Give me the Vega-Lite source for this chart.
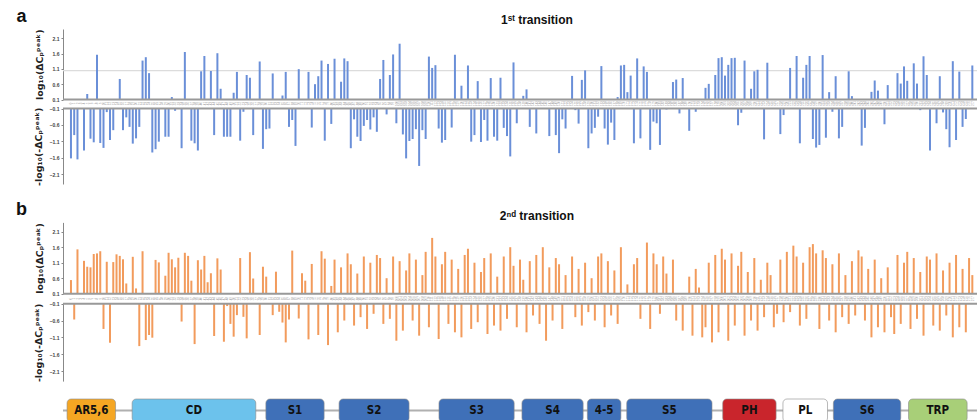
{
  "$schema": "https://vega.github.io/schema/vega-lite/v6.json",
  "width": 914,
  "height": 391,
  "autosize": "none",
  "padding": {"left": 63, "top": 29, "right": 0, "bottom": 0},
  "background": "white",
  "config": {"view": {"stroke": null}, "font": "Liberation Sans"},
  "data": {"values": [
    {"i":0,"an":-1.62,"bp":0.54},{"i":1,"an":-0.91,"bn":-0.57},{"i":2,"an":-1.65,"bp":1.53},{"i":3},{"i":4,"an":-1.38,"bp":1.16},
    {"i":5,"ap":0.28,"bp":0.97},{"i":6,"an":-1.02,"bp":0.95},{"i":7,"an":-1.13,"bp":1.38},{"i":8,"ap":1.56,"bp":1.40},{"i":9,"an":-1.15,"bp":1.47},
    {"i":10,"an":-1.30,"bn":-0.85},{"i":11,"an":-0.21,"bp":1.13},{"i":12,"an":-1.06,"bn":-1.26},{"i":13,"an":-0.76,"bp":1.12},{"i":14,"bp":1.37},
    {"i":15,"ap":0.77,"bp":1.32},{"i":16,"an":-0.76,"bp":1.21},{"i":17,"an":-0.37,"bp":0.43},{"i":18,"an":-0.66},{"i":19,"an":-1.17,"bp":1.29},
    {"i":20,"an":-1.01,"bp":0.27},{"i":21,"an":-0.66,"bn":-1.36},{"i":22,"ap":1.37,"bp":1.47},{"i":23,"ap":1.48,"bn":-1.18},{"i":24,"ap":0.96,"bn":-1.03},
    {"i":25,"an":-1.44,"bn":-1.11},{"i":26,"an":-1.34,"bp":1.19},{"i":27,"an":-1.11,"bp":1.11},{"i":28},{"i":29,"an":-0.96,"bp":0.68},
    {"i":30,"an":-0.96,"bp":1.42},{"i":31,"ap":0.18,"bp":1.21},{"i":32,"an":-0.17,"bp":0.95},{"i":33,"bp":1.26},{"i":34,"an":-1.31,"bn":-0.63},
    {"i":35,"ap":1.65,"bp":1.42},{"i":36,"bp":1.32},{"i":37,"an":-1.08,"bp":0.52},{"i":38,"an":-1.16,"bn":-1.30},{"i":39,"an":-1.38,"bp":1.18},
    {"i":40,"ap":1.02,"bp":0.88},{"i":41,"ap":1.52,"bp":1.32},{"i":42,"bp":0.47},{"i":43,"ap":1.03,"bp":0.76},{"i":44,"an":-0.91,"bn":-1.06},
    {"i":45,"ap":1.61,"bp":1.24},{"i":46,"ap":0.45,"bp":0.88},{"i":47,"an":-0.96,"bn":-1.23},{"i":48,"an":-0.96,"bn":-0.17},{"i":49,"an":-0.96,"bn":-0.70},
    {"i":50,"ap":0.32,"bn":-1.08},{"i":51,"ap":1.00,"bn":-0.44},{"i":52,"an":-1.08,"bp":1.25},{"i":53,"an":-0.20,"bn":-0.49},{"i":54,"ap":0.90,"bn":-1.13},
    {"i":55,"ap":0.81,"bp":1.44},{"i":56,"an":-0.91,"bp":0.59},{"i":57},{"i":58,"ap":1.34,"bn":-1.03},{"i":59,"an":-1.33,"bp":0.97},
    {"i":60,"an":-0.73,"bp":0.65},{"i":61,"an":-0.71},{"i":62,"ap":0.95,"bn":-0.44},{"i":63,"bp":0.81},{"i":64,"bn":-0.34},
    {"i":65,"ap":0.23,"bn":-0.66},{"i":66,"ap":1.00,"bn":-1.25},{"i":67,"an":-0.66,"bn":-0.57},{"i":68,"an":-0.45,"bp":1.49},{"i":69,"an":-1.24},
    {"i":70,"ap":1.09,"bn":-0.54},{"i":71,"bp":0.76},{"i":72,"bp":0.52},{"i":73,"ap":1.00,"bn":-1.16},{"i":74,"an":-0.68,"bp":1.06},
    {"i":75,"ap":0.60},{"i":76,"ap":0.86,"bn":-1.03},{"i":77,"ap":1.37,"bp":1.47},{"i":78,"an":-1.08,"bp":1.23},{"i":79,"ap":1.26,"bn":-1.33},
    {"i":80,"an":-0.57,"bp":0.35},{"i":81,"ap":1.43,"bp":1.20},{"i":82,"bn":-0.95},{"i":83,"ap":0.68,"bp":0.95},{"i":84,"ap":1.44,"bn":-0.60},
    {"i":85,"ap":1.35,"bp":1.40},{"i":86,"an":-1.31,"bp":1.05},{"i":87,"an":-0.43,"bn":-0.75},{"i":88,"an":-0.96,"bp":0.75},{"i":89,"an":-1.09,"bn":-0.50},
    {"i":90,"an":-0.63,"bp":1.30},{"i":91,"an":-0.45,"bn":-0.85},{"i":92,"an":-0.74,"bp":1.10},{"i":93,"an":-0.37,"bn":-0.40},{"i":94,"an":-0.81,"bp":1.35},
    {"i":95,"ap":0.77,"bp":1.25},{"i":96,"ap":1.39,"bn":-0.70},{"i":97,"an":-0.28,"bp":0.60},{"i":98,"ap":0.90,"bn":-0.55},{"i":99,"ap":1.57,"bp":1.30},
    {"i":100,"an":-0.55,"bn":-1.20},{"i":101,"ap":1.92,"bp":1.15},{"i":102,"an":-0.89,"bn":-0.90},{"i":103,"an":-1.62,"bp":0.85},{"i":104,"an":-1.09,"bp":1.40},
    {"i":105,"an":-1.03,"bn":-0.60},{"i":106,"an":-0.73,"bp":1.20},{"i":107,"an":-1.85,"bn":-1.05},{"i":108,"an":-0.76,"bp":0.70},{"i":109,"an":-1.03,"bp":1.45},
    {"i":110,"ap":1.50,"bn":-0.80},{"i":111,"ap":1.13,"bp":1.90},{"i":112,"ap":1.22,"bp":1.30},{"i":113,"an":-0.71,"bn":-1.15},{"i":114,"an":-1.14,"bp":1.05},
    {"i":115,"an":-1.06,"bp":1.45},{"i":116,"bn":-0.70},{"i":117,"an":-0.68,"bp":1.20},{"i":118,"ap":1.56,"bn":-0.95},{"i":119,"bp":0.90},
    {"i":120,"ap":0.55,"bn":-1.10},{"i":121,"bp":1.35},{"i":122,"ap":1.21,"bp":1.55},{"i":123,"an":-1.11,"bn":-0.85},{"i":124,"an":-0.91,"bp":1.10},
    {"i":125,"ap":0.70,"bn":-0.65},{"i":126,"an":-1.12,"bp":0.80},{"i":127,"an":-0.45,"bp":1.25},{"i":128,"an":-1.08,"bn":-1.00},{"i":129,"ap":0.80,"bp":1.40},
    {"i":130,"an":-0.96,"bn":-0.75},{"i":131,"an":-1.08,"bp":0.65},{"i":132,"ap":0.81,"bn":-0.90},{"i":133,"an":-0.69,"bp":1.30},{"i":134,"an":-0.94,"bn":-0.55},
    {"i":135,"an":-1.56,"bp":1.60},{"i":136,"ap":1.31,"bp":1.00},{"i":137,"an":-0.55,"bn":-0.80},{"i":138,"bp":1.20},{"i":139,"ap":0.22,"bp":0.55},
    {"i":140,"ap":0.43,"bn":-0.95},{"i":141,"an":-0.66,"bp":1.15},{"i":142,"bn":-0.45},{"i":143,"an":-0.86,"bp":1.35},{"i":144,"bn":-0.70},
    {"i":145,"bp":1.60},{"i":146,"bn":-1.20},{"i":147,"an":-0.94,"bp":0.95},{"i":148,"bn":-0.60},{"i":149,"an":-0.91,"bp":1.25},
    {"i":150,"an":-1.46,"bp":1.05},{"i":151,"an":-0.43,"bn":-0.85},{"i":152,"an":-0.71,"bp":0.70},{"i":153},{"i":154,"ap":0.87,"bp":1.30},
    {"i":155,"an":-0.15,"bn":-0.50},{"i":156,"an":-0.56,"bp":0.90},{"i":157,"ap":0.74,"bn":-0.75},{"i":158,"ap":1.05,"bp":1.10},{"i":159,"an":-1.31,"bn":-0.35},
    {"i":160,"an":-0.86,"bp":0.60},{"i":161,"an":-0.69,"bn":-0.60},{"i":162,"an":-0.35,"bp":1.30},{"i":163,"ap":1.19,"bp":1.40},{"i":164,"an":-0.71,"bn":-0.80},
    {"i":165,"an":-1.20,"bp":1.15},{"i":166,"an":-0.53,"bn":-0.45},{"i":167,"an":-1.06,"bp":0.85},{"i":168,"ap":0.18,"bn":-0.70},{"i":169,"ap":1.21,"bp":1.60},
    {"i":170,"ap":1.23},{"i":171,"ap":0.34,"bp":0.40},{"i":172,"ap":0.88},{"i":173,"an":-1.16,"bp":1.05},{"i":174,"ap":1.44,"bp":1.25},
    {"i":175,"an":-1.01,"bn":-0.55},{"i":176,"ap":1.18},{"i":177,"ap":1.00,"bp":1.75},{"i":178,"an":-1.36,"bn":-0.85},{"i":179,"an":-0.50,"bp":1.40},
    {"i":180,"an":-0.55,"bp":1.05},{"i":181,"an":-1.21,"bn":-0.40},{"i":182,"bp":1.30},{"i":183,"an":-0.13,"bp":0.75},{"i":184},
    {"i":185,"ap":0.67,"bp":1.20},{"i":186,"ap":0.75,"bn":-0.60},{"i":187,"an":-0.25},{"i":188,"ap":0.80,"bn":-0.90},{"i":189},
    {"i":190,"an":-0.78,"bp":0.65},{"i":191,"bn":-1.05},{"i":192,"an":-0.20,"bp":0.90},{"i":193,"bp":0.30},{"i":194,"bn":-1.10},
    {"i":195,"ap":0.48,"bn":-0.80},{"i":196,"ap":0.61,"bp":1.10},{"i":197,"bn":-1.25},{"i":198,"ap":0.90,"bp":1.35},{"i":199,"ap":1.45,"bn":-0.95},
    {"i":200,"ap":1.48,"bp":1.55},{"i":201,"ap":0.88,"bp":1.20},{"i":202,"ap":1.23,"bn":-1.20},{"i":203,"ap":1.45,"bp":1.40},{"i":204,"ap":1.46,"bn":-0.75},
    {"i":205,"an":-0.61,"bp":1.00},{"i":206,"an":-0.23,"bp":1.45},{"i":207,"ap":1.37,"bn":-1.05},{"i":208,"bp":0.80},{"i":209,"ap":0.45,"bn":-0.60},
    {"i":210,"ap":1.02,"bp":1.25},{"i":211,"ap":1.07,"bn":-0.90},{"i":212,"bp":0.55},{"i":213,"an":-1.04,"bn":-0.50},{"i":214,"ap":1.30,"bp":1.10},
    {"i":215,"bp":0.70},{"i":216,"bn":-0.80},{"i":217,"bn":-0.40},{"i":218,"an":-0.88,"bp":1.20},{"i":219,"an":-0.30,"bn":-0.65},
    {"i":220,"bp":1.45},{"i":221,"ap":1.13,"bn":-0.35},{"i":222,"bp":1.65},{"i":223,"ap":1.52,"bp":1.30},{"i":224,"an":-1.16,"bn":-0.75},
    {"i":225,"ap":0.81,"bp":1.10},{"i":226,"ap":1.23,"bn":-0.55},{"i":227,"ap":1.52,"bp":1.60},{"i":228,"an":-1.03,"bp":1.70},{"i":229,"an":-1.29,"bp":1.40},
    {"i":230,"an":-1.21,"bn":-0.85},{"i":231,"ap":1.55,"bp":1.50},{"i":232,"an":-0.99,"bp":1.25},{"i":233,"ap":0.34,"bn":-0.60},{"i":234,"an":-0.20,"bp":1.05},
    {"i":235,"ap":0.86,"bn":-0.95},{"i":236,"an":-1.01,"bp":1.40},{"i":237,"an":-0.66,"bn":-0.50},{"i":238,"bp":0.70},{"i":239,"ap":1.02,"bn":-0.70},
    {"i":240,"ap":0.21,"bp":1.15},{"i":241,"bn":-0.45},{"i":242,"bp":1.50},{"i":243,"an":-1.23,"bp":1.30},{"i":244,"an":-0.69,"bn":-0.60},
    {"i":245,"bp":0.90},{"i":246,"ap":0.35,"bn":-1.10},{"i":247,"ap":0.72,"bp":1.20},{"i":248,"ap":0.39,"bn":-0.80},{"i":249,"bp":0.60},
    {"i":250,"an":-0.58,"bn":-0.95},{"i":251,"ap":0.57,"bp":0.95},{"i":252,"bn":-0.50},{"i":253,"bn":-1.00},{"i":254,"ap":0.96,"bp":1.35},
    {"i":255,"ap":0.62,"bn":-0.70},{"i":256,"ap":1.18,"bp":1.10},{"i":257,"ap":0.71,"bp":1.45},{"i":258,"bn":-0.85},{"i":259,"ap":1.28,"bp":1.25},
    {"i":260,"ap":0.62,"bn":-0.55},{"i":261,"an":-0.15,"bp":0.80},{"i":262,"ap":1.51,"bn":-1.05},{"i":263,"ap":0.90,"bp":1.30},{"i":264,"an":-1.38,"bp":1.20},
    {"i":265,"bn":-0.75},{"i":266,"an":-0.55,"bp":1.40},{"i":267,"ap":0.86,"bn":-0.90},{"i":268,"an":-0.22,"bp":0.85},{"i":269,"an":-0.73,"bn":-0.45},
    {"i":270,"an":-1.28,"bp":1.10},{"i":271,"ap":1.35,"bn":-1.10},{"i":272,"an":-1.06,"bp":1.35},{"i":273,"ap":1.01,"bn":-0.80},{"i":274,"an":-0.66,"bp":0.90},
    {"i":275,"an":-0.42,"bn":-0.95},{"i":276,"bp":1.25},{"i":277,"ap":1.21,"bp":0.70}
  ]},
  "layer": [
    {
      "layer": [
        {"data": {"values": [{}]}, "mark": {"type": "rule", "color": "#dcdcdc", "strokeWidth": 1.2},
         "encoding": {"y": {"datum": 1.04, "type": "quantitative"}}},
        {"mark": {"type": "bar", "size": 2, "color": "#6a8fd8"},
         "encoding": {
           "x": {"field": "i", "type": "quantitative", "scale": {"domain": [-0.91, 276.9], "nice": false, "zero": false}, "axis": null},
           "y": {"field": "ap", "type": "quantitative",
                 "scale": {"domain": [0.1, 2.4], "range": [70.5, 0], "nice": false, "zero": false},
                 "axis": {"orient": "left", "values": [0.1, 0.6, 1.1, 1.6, 2.1], "format": ".1f", "grid": false,
                          "domainColor": "#888", "tickColor": "#888", "tickSize": 2, "labelFontSize": 5, "labelColor": "#444",
                          "labelFontWeight": "bold", "labelPadding": 2, "labelFlush": false, "labelOverlap": false,
                          "title": "log₁₀(ΔCₚᵖᵉᵃᵏ)", "titleFont": "DejaVu Sans", "titleFontSize": 9.5, "titleFontWeight": "bold",
                          "titleColor": "#222", "titlePadding": 8}},
           "y2": {"datum": 0.1}}},
        {"data": {"values": [{}]}, "mark": {"type": "rule", "color": "#999999", "strokeWidth": 2},
         "encoding": {"y": {"datum": 0.1, "type": "quantitative"}}},
        {"mark": {"type": "text", "fontSize": 3, "color": "#9a9a9a", "angle": 270, "align": "center", "baseline": "middle"},
         "encoding": {
           "x": {"field": "i", "type": "quantitative"},
           "y": {"datum": -0.03, "type": "quantitative"},
           "text": {"field": "i", "type": "quantitative"}}},
        {"data": {"values": [{"t": "1ˢᵗ transition"}]}, "mark": {"type": "text", "fontSize": 12, "fontWeight": "bold", "color": "#111", "align": "center", "baseline": "middle"},
         "encoding": {"x": {"datum": 143.2, "type": "quantitative"}, "y": {"datum": 2.69, "type": "quantitative"}, "text": {"field": "t"}}},
        {"data": {"values": [{"t": "a"}]}, "mark": {"type": "text", "fontSize": 18, "fontWeight": "bold", "color": "#111", "align": "center", "baseline": "middle"},
         "encoding": {"x": {"datum": -15.2, "type": "quantitative"}, "y": {"datum": 2.78, "type": "quantitative"}, "text": {"field": "t"}}}
      ]
    },
    {
      "layer": [
        {"mark": {"type": "bar", "size": 2, "color": "#6a8fd8"},
         "encoding": {
           "x": {"field": "i", "type": "quantitative"},
           "y": {"field": "an", "type": "quantitative",
                 "scale": {"domain": [-2.4, -0.1], "range": [155, 79.5], "nice": false, "zero": false},
                 "axis": {"orient": "left", "values": [-0.1, -0.6, -1.1, -1.6, -2.1], "format": ".1f", "grid": false,
                          "domainColor": "#888", "tickColor": "#888", "tickSize": 2, "labelFontSize": 5, "labelColor": "#444",
                          "labelFontWeight": "bold", "labelPadding": 2, "labelFlush": false, "labelOverlap": false,
                          "title": "-log₁₀(-ΔCₚᵖᵉᵃᵏ)", "titleFont": "DejaVu Sans", "titleFontSize": 9.5, "titleFontWeight": "bold",
                          "titleColor": "#222", "titlePadding": 6}},
           "y2": {"datum": -0.1}}},
        {"data": {"values": [{}]}, "mark": {"type": "rule", "color": "#999999", "strokeWidth": 2},
         "encoding": {"y": {"datum": -0.1, "type": "quantitative"}}}
      ]
    },
    {
      "layer": [
        {"mark": {"type": "bar", "size": 2, "color": "#f29b5c"},
         "encoding": {
           "x": {"field": "i", "type": "quantitative"},
           "y": {"field": "bp", "type": "quantitative",
                 "scale": {"domain": [0.1, 2.4], "range": [264.7, 193.4], "nice": false, "zero": false},
                 "axis": {"orient": "left", "values": [0.1, 0.6, 1.1, 1.6, 2.1], "format": ".1f", "grid": false,
                          "domainColor": "#888", "tickColor": "#888", "tickSize": 2, "labelFontSize": 5, "labelColor": "#444",
                          "labelFontWeight": "bold", "labelPadding": 2, "labelFlush": false, "labelOverlap": false,
                          "title": "log₁₀(ΔCₚᵖᵉᵃᵏ)", "titleFont": "DejaVu Sans", "titleFontSize": 9.5, "titleFontWeight": "bold",
                          "titleColor": "#222", "titlePadding": 8}},
           "y2": {"datum": 0.1}}},
        {"data": {"values": [{}]}, "mark": {"type": "rule", "color": "#999999", "strokeWidth": 2},
         "encoding": {"y": {"datum": 0.1, "type": "quantitative"}}},
        {"mark": {"type": "text", "fontSize": 3, "color": "#9a9a9a", "angle": 270, "align": "center", "baseline": "middle"},
         "encoding": {
           "x": {"field": "i", "type": "quantitative"},
           "y": {"datum": -0.06, "type": "quantitative"},
           "text": {"field": "i", "type": "quantitative"}}},
        {"data": {"values": [{"t": "2ⁿᵈ transition"}]}, "mark": {"type": "text", "fontSize": 12, "fontWeight": "bold", "color": "#111", "align": "center", "baseline": "middle"},
         "encoding": {"x": {"datum": 143.2, "type": "quantitative"}, "y": {"datum": 2.61, "type": "quantitative"}, "text": {"field": "t"}}},
        {"data": {"values": [{"t": "b"}]}, "mark": {"type": "text", "fontSize": 18, "fontWeight": "bold", "color": "#111", "align": "center", "baseline": "middle"},
         "encoding": {"x": {"datum": -15.2, "type": "quantitative"}, "y": {"datum": 2.8, "type": "quantitative"}, "text": {"field": "t"}}}
      ]
    },
    {
      "layer": [
        {"mark": {"type": "bar", "size": 2, "color": "#f29b5c"},
         "encoding": {
           "x": {"field": "i", "type": "quantitative"},
           "y": {"field": "bn", "type": "quantitative",
                 "scale": {"domain": [-2.4, -0.1], "range": [352.1, 274.7], "nice": false, "zero": false},
                 "axis": {"orient": "left", "values": [-0.1, -0.6, -1.1, -1.6, -2.1], "format": ".1f", "grid": false,
                          "domainColor": "#888", "tickColor": "#888", "tickSize": 2, "labelFontSize": 5, "labelColor": "#444",
                          "labelFontWeight": "bold", "labelPadding": 2, "labelFlush": false, "labelOverlap": false,
                          "title": "-log₁₀(-ΔCₚᵖᵉᵃᵏ)", "titleFont": "DejaVu Sans", "titleFontSize": 9.5, "titleFontWeight": "bold",
                          "titleColor": "#222", "titlePadding": 6}},
           "y2": {"datum": -0.1}}},
        {"data": {"values": [{}]}, "mark": {"type": "rule", "color": "#999999", "strokeWidth": 2},
         "encoding": {"y": {"datum": -0.1, "type": "quantitative"}}}
      ]
    },
    {
      "data": {"values": [
        {"name": "AR5,6", "start": -1.2, "end": 13.7},
        {"name": "CD", "start": 18.8, "end": 56.8},
        {"name": "S1", "start": 59.9, "end": 77.8},
        {"name": "S2", "start": 82.4, "end": 103.9},
        {"name": "S3", "start": 113.1, "end": 136.2},
        {"name": "S4", "start": 138.6, "end": 157.4},
        {"name": "4-5", "start": 158.7, "end": 169.0},
        {"name": "S5", "start": 170.8, "end": 197.0},
        {"name": "PH", "start": 200.3, "end": 216.7},
        {"name": "PL", "start": 218.8, "end": 232.5},
        {"name": "S6", "start": 234.3, "end": 255.0},
        {"name": "TRP", "start": 257.4, "end": 275.4}
      ]},
      "layer": [
        {"data": {"values": [{}]}, "mark": {"type": "rule", "color": "#b0b0b0", "strokeWidth": 2},
         "encoding": {"y": {"datum": 0.5, "type": "quantitative", "scale": {"domain": [0, 1], "range": [393, 370], "nice": false, "zero": false}, "axis": null}}},
        {"mark": {"type": "bar", "cornerRadius": 4, "stroke": "#8a8a8a", "strokeWidth": 0.6},
         "encoding": {
           "x": {"field": "start", "type": "quantitative"},
           "x2": {"field": "end"},
           "y": {"datum": 0, "type": "quantitative"},
           "y2": {"datum": 1},
           "color": {"field": "name", "type": "nominal", "legend": null,
                     "scale": {"domain": ["AR5,6", "CD", "S1", "S2", "S3", "S4", "4-5", "S5", "PH", "PL", "S6", "TRP"],
                               "range": ["#f5a623", "#6cc2ec", "#3f70b8", "#3f70b8", "#3f70b8", "#3f70b8", "#3f70b8", "#3f70b8", "#c9252c", "#ffffff", "#3f70b8", "#a8cf78"]}}}},
        {"transform": [{"calculate": "(datum.start + datum.end) / 2", "as": "mid"}],
         "mark": {"type": "text", "fontSize": 11.5, "fontWeight": "bold", "font": "Liberation Sans Narrow, DejaVu Sans Condensed, Liberation Sans", "color": "#111", "align": "center", "baseline": "middle"},
         "encoding": {
           "x": {"field": "mid", "type": "quantitative"},
           "y": {"datum": 0.5, "type": "quantitative"},
           "text": {"field": "name"}}}
      ]
    }
  ],
  "resolve": {"scale": {"y": "independent"}, "axis": {"y": "independent"}}
}
